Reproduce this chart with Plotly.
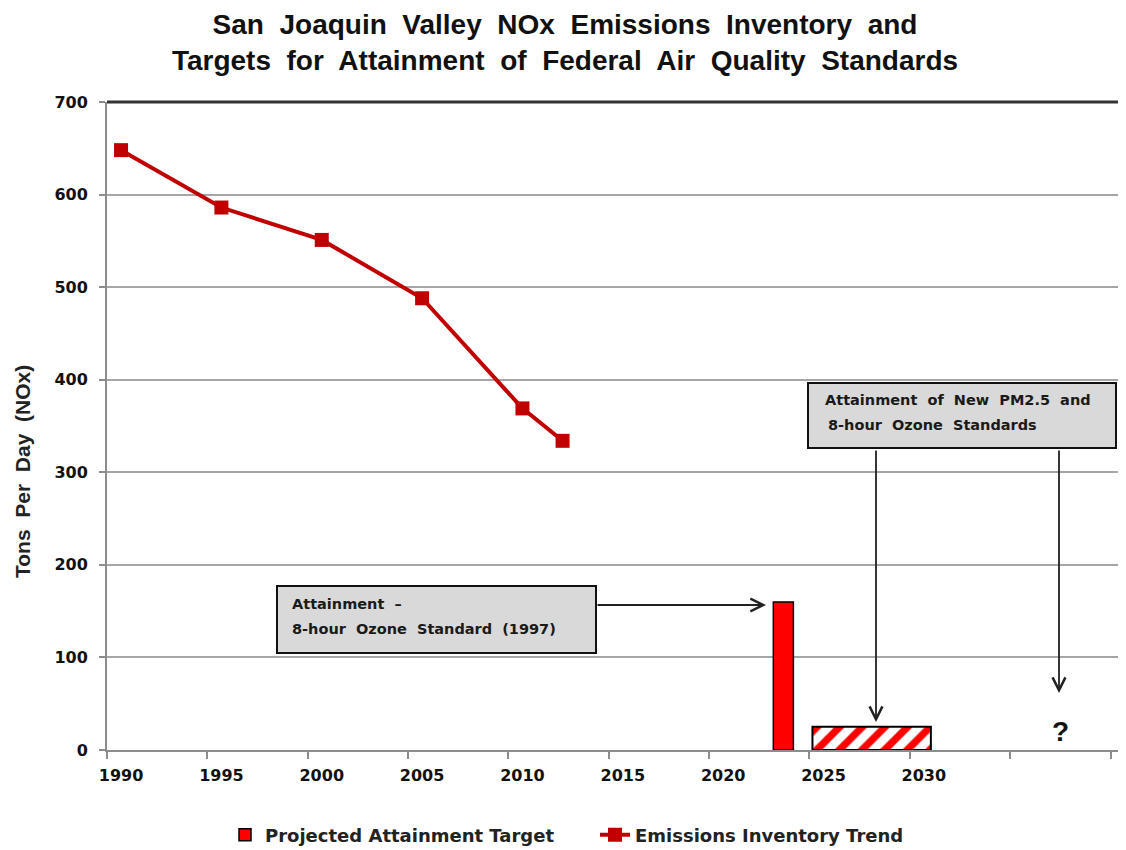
import plotly.graph_objects as go

# ---------------- data ----------------
trend_years = [1990, 1995, 2000, 2005, 2010, 2012]
trend_nox = [648, 586, 551, 488, 369, 334]

target_years = [2023]
target_nox = [160]
target_widths = [1.0]

future_years = [2027.4]
future_nox = [25]
future_widths = [5.9]

x_tick_vals = [1990, 1995, 2000, 2005, 2010, 2015, 2020, 2025, 2030]
x_tick_text = ["1990", "1995", "2000", "2005", "2010", "2015", "2020", "2025", "2030"]

title_text = ("San  Joaquin  Valley  NOx  Emissions  Inventory  and<br>"
              "Targets  for  Attainment  of  Federal  Air  Quality  Standards")
y_title = "Tons  Per  Day  (NOx)"
box1_lines = ["Attainment  –", "8-hour  Ozone  Standard  (1997)"]
box2_lines = ["Attainment  of  New  PM2.5  and", "8-hour  Ozone  Standards"]

# ---------------- layout geometry ----------------
# the page adds an 8px body margin; coordinates below are in screenshot pixels
OFF = 8
W, H = 1126 - OFF, 850 - OFF
L, R, T, B = 107 - OFF, 1126 - OFF, 102 - OFF, 750 - OFF


def fx(px):
    return (px - OFF - L) / (R - L)


def fy(py):
    return (B - (py - OFF)) / (B - T)


DARK_RED = "#c00000"
GRID = "#a6a6a6"
AXIS = "#8c8c8c"
FONT_W = "DejaVu Sans"

fig = go.Figure()

fig.add_trace(go.Bar(
    x=target_years, y=target_nox, width=target_widths,
    name="Projected Attainment Target",
    marker=dict(color="#ff0000", line=dict(color="black", width=1.5)),
))
fig.add_trace(go.Bar(
    x=future_years, y=future_nox, width=future_widths,
    showlegend=False,
    marker=dict(color="white", line=dict(color="black", width=2),
                pattern=dict(shape="/", fgcolor="#ff0000", bgcolor="white",
                             fgopacity=1, size=16, solidity=0.45)),
))
fig.add_trace(go.Scatter(
    x=trend_years, y=trend_nox, mode="lines+markers",
    name="Emissions Inventory Trend",
    line=dict(color=DARK_RED, width=4),
    marker=dict(symbol="square", size=14, color=DARK_RED),
))

fig.update_layout(
    width=W, height=H,
    margin=dict(l=L, r=W - R, t=T, b=H - B),
    paper_bgcolor="white", plot_bgcolor="white",
    barmode="overlay",
    title=dict(text=title_text, x=(565 - OFF) / W, xref="container", xanchor="center",
               y=1 - (42 - OFF - 8) / H, yref="container", yanchor="middle",
               font=dict(family="Liberation Sans", size=28, color="#111", weight="bold")),
    legend=dict(orientation="h", x=(225 - OFF) / W, xref="container", xanchor="left",
                y=1 - (835 - OFF) / H, yref="container", yanchor="middle",
                font=dict(family=FONT_W, size=18, color="#222", weight="bold"),
                itemwidth=30, entrywidth=325, entrywidthmode="pixels"),
    showlegend=True,
)

fig.update_xaxes(
    range=[1989.3, 1989.3 + (R - L) / 20.07],
    tickmode="array", tickvals=x_tick_vals, ticktext=x_tick_text,
    ticks="", showgrid=False, zeroline=False,
    showline=True, linecolor=AXIS, linewidth=2,
    tickfont=dict(family=FONT_W, size=16, color="#111", weight="bold"),
    ticklabelstandoff=10,
    minor=dict(tickmode="linear", tick0=1989.3, dtick=5, ticks="outside",
               ticklen=7, tickwidth=2, tickcolor=AXIS, showgrid=False),
)
fig.update_yaxes(
    range=[0, 700], tickmode="linear", tick0=0, dtick=100,
    ticks="outside", ticklen=6, tickwidth=2, tickcolor=AXIS,
    showgrid=True, gridcolor=GRID, gridwidth=2, zeroline=False,
    showline=True, linecolor=AXIS, linewidth=2,
    tickfont=dict(family=FONT_W, size=16, color="#111", weight="bold"),
    ticklabelstandoff=8,
)

# y-axis title
fig.add_annotation(xref="paper", yref="paper", x=fx(22), y=fy(472), showarrow=False,
                   text=y_title, textangle=-90, xanchor="center", yanchor="middle",
                   font=dict(family="Liberation Sans", size=21, color="#222", weight="bold"))

# dark top border line of the plot area
fig.add_shape(type="line", xref="paper", yref="paper", x0=0, x1=1, y0=1, y1=1,
              line=dict(color="#333", width=3))

# callout boxes
boxes = [((277, 586, 596, 653), box1_lines, [(290, 604), (290, 629)]),
         ((808, 383, 1116, 448), box2_lines, [(823, 400), (826, 425)])]
box_font = dict(family=FONT_W, size=14.5, color="#1a1a1a", weight="bold")
for (x0, y0, x1, y1), lines, spots in boxes:
    fig.add_shape(type="rect", xref="paper", yref="paper",
                  x0=fx(x0), x1=fx(x1), y0=fy(y0), y1=fy(y1),
                  fillcolor="#d9d9d9", line=dict(color="#111", width=2), layer="above")
    for txt, (tx, ty) in zip(lines, spots):
        fig.add_annotation(xref="paper", yref="paper", x=fx(tx), y=fy(ty), showarrow=False,
                           text=txt, xanchor="left", yanchor="middle", font=box_font)

# arrows
arrows = [((766, 605), (596, 605)), ((876, 722), (876, 449)), ((1059, 693), (1059, 449))]
for (tx, ty), (sx, sy) in arrows:
    fig.add_annotation(xref="paper", yref="paper", x=fx(tx), y=fy(ty),
                       ax=sx - tx, ay=sy - ty, axref="pixel", ayref="pixel",
                       text="", showarrow=True, arrowhead=5, arrowsize=1.4,
                       arrowwidth=1.8, arrowcolor="#222", standoff=0, startstandoff=0)

# question mark
fig.add_annotation(xref="paper", yref="paper", x=fx(1060), y=fy(731), showarrow=False,
                   text="?", font=dict(family="Liberation Sans", size=28, color="#111", weight="bold"),
                   xanchor="center", yanchor="middle")

fig.write_html("out.html")
